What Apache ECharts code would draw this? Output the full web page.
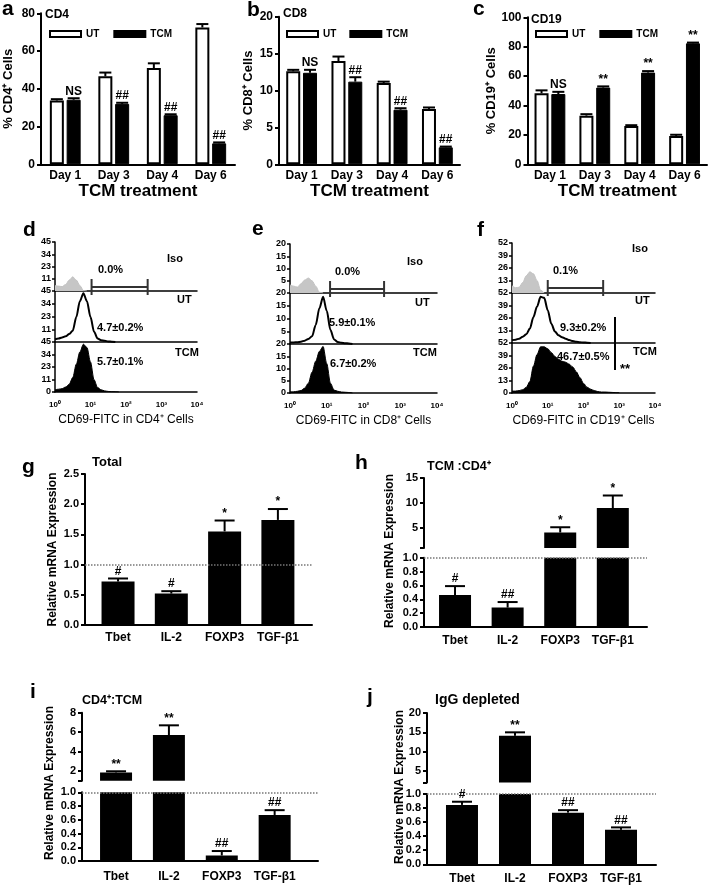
<!DOCTYPE html>
<html>
<head>
<meta charset="utf-8">
<script src="https://cdn.jsdelivr.net/npm/echarts@6/dist/echarts.min.js"></script>
<style>
  html, body { margin: 0; padding: 0; background: #fff; }
  #main { width: 708px; height: 887px; }
</style>
</head>
<body>
<div id="main"></div>
<script>
var FONT = '"Liberation Sans", Arial, sans-serif';

// ---- a-c: % positive cells per day ----
var days = ['Day 1', 'Day 3', 'Day 4', 'Day 6'];
var cd4UT = [33.8, 46.6, 51, 72.5];
var cd4UTErr = [0.7, 2, 2.5, 1.8];
var cd4TCM = [34.2, 32, 26, 11.1];
var cd4TCMErr = [0.8, 0.6, 0.5, 0.5];
var cd4Marks = ['NS', '##', '##', '##'];

var cd8UT = [12.6, 14.0, 11.0, 7.5];
var cd8UTErr = [0.2, 0.6, 0.2, 0.2];
var cd8TCM = [12.4, 11.2, 7.4, 2.3];
var cd8TCMErr = [0.4, 0.6, 0.2, 0.1];
var cd8Marks = ['NS', '##', '##', '##'];

var cd19UT = [48.3, 33.1, 26.1, 19.3];
var cd19UTErr = [2, 1, 0.5, 0.8];
var cd19TCM = [47.8, 52.2, 62.4, 82.3];
var cd19TCMErr = [1.5, 0.8, 1, 0.5];
var cd19Marks = ['NS', '**', '**', '**'];

// ---- d-f: CD69 histograms (bins in log10 decades) ----
var flowLog = [0, 0.1, 0.2, 0.3, 0.4, 0.5, 0.6, 0.7, 0.8, 0.9, 1.0, 1.1, 1.2, 1.3, 1.4, 1.5,
  1.6, 1.7, 1.8, 1.9, 2.0, 2.1, 2.2, 2.3, 2.4, 2.5, 2.6, 2.7, 2.8, 2.9, 3.0];
var flowTicks = ['10⁰', '10¹', '10²', '10³', '10⁴'];

var isoD = [5, 4.5, 4, 6, 10, 13, 10, 5, 0.5, 0];
var utD = [2.5, 3, 4, 5, 7, 10, 22, 36, 43, 36, 22, 9, 3, 1.5, 1, 0.5, 0.3, 0];
var tcmD = [2, 2.5, 3, 4.5, 7, 13, 25, 36, 43, 40, 27, 11, 4, 2, 1, 0.5, 0.3, 0.2, 0];
var gateD = [1.03, 2.61];

var isoE = [3.3, 2.8, 2.4, 3.8, 5.3, 6.1, 5, 2.8, 0.3, 0];
var utE = [0.6, 0.6, 0.7, 0.9, 1.3, 2, 3, 7.5, 14, 18.5, 13, 5.5, 1.8, 0.8, 0.5, 0.3, 0.2, 0];
var tcmE = [0.5, 0.5, 0.7, 1, 2, 4, 8.5, 13, 17, 19, 12, 4, 1.2, 0.7, 0.4, 0.3, 0.2, 0];
var gateE = [1.09, 2.56];

var isoF = [7.5, 5.5, 6, 11, 18, 22, 20, 13, 3, 0];
var utF = [3, 3.5, 4.5, 6.5, 9, 15, 27, 38, 48, 47, 34, 20, 12, 8, 6, 4.5, 3, 2, 1.2, 0.8, 0.5, 0.3, 0];
var tcmF = [2, 2, 2.5, 3.5, 6, 12, 28, 40, 48, 48, 46, 42, 38, 35, 33, 32, 30, 27, 22, 16, 10,
  6, 4, 2.5, 1.5, 1, 1, 0.8, 0.6, 0.4, 0.3];
var gateF = [1.0, 2.55];

// ---- g-j: relative mRNA expression ----
var genes = ['Tbet', 'IL-2', 'FOXP3', 'TGF-β1'];
var totalVal = [0.72, 0.52, 1.55, 1.74];
var totalErr = [0.05, 0.04, 0.18, 0.18];
var totalMarks = ['#', '#', '*', '*'];

var tcmCd4Val = [0.46, 0.28, 4.1, 9.0];
var tcmCd4Err = [0.13, 0.08, 1.05, 2.5];
var tcmCd4Marks = ['#', '##', '*', '*'];

var cd4TcmVal = [1.85, 5.7, 0.08, 0.67];
var cd4TcmErr = [0.12, 1.0, 0.065, 0.07];
var cd4TcmMarks = ['**', '**', '##', '##'];

var iggVal = [0.845, 14.1, 0.735, 0.49];
var iggErr = [0.045, 0.9, 0.035, 0.035];
var iggMarks = ['#', '**', '##', '##'];

var chart = echarts.init(document.getElementById('main'));

var grids = [], xAxes = [], yAxes = [], series = [], texts = [], legends = [];

function font(size, weight) {
  return {fontFamily: FONT, fontSize: size, fontWeight: weight || 'bold', color: '#000'};
}

function withMargin(obj, margin) {
  obj.margin = margin;
  return obj;
}

function txt(text, x, baseline, size, weight, extra) {
  var el = {
    type: 'text', x: x, y: baseline - 0.35 * size, silent: true,
    style: {text: text, fontFamily: FONT, fontSize: size, fontWeight: weight || 'bold',
      fill: '#000', align: 'left', verticalAlign: 'middle'}
  };
  if (extra) {
    for (var key in extra) el[key] = extra[key];
  }
  texts.push(el);
}

function errRender(offset, cap, marks, markSize) {
  return function (params, api) {
    var i = api.value(0);
    var v = api.value(1);
    var e = api.value(2);
    var p0 = api.coord([i, v]);
    var p1 = api.coord([i, v + e]);
    var x = p0[0] + offset;
    var els = [
      {type: 'line', shape: {x1: x, y1: p0[1], x2: x, y2: p1[1]}, style: {stroke: '#000', lineWidth: 2}},
      {type: 'line', shape: {x1: x - cap / 2, y1: p1[1], x2: x + cap / 2, y2: p1[1]}, style: {stroke: '#000', lineWidth: 2}}
    ];
    var m = marks[Math.round(i)];
    if (m) {
      els.push({type: 'text', style: {text: m, x: x, y: p1[1] - 1, align: 'center', verticalAlign: 'bottom',
        fontFamily: FONT, fontSize: markSize, fontWeight: 'bold', fill: '#000'}});
    }
    return {type: 'group', children: els};
  };
}

function triples(vals, errs, keep) {
  var out = [];
  for (var i = 0; i < vals.length; i++) {
    if (!keep || keep(vals[i])) out.push([i, vals[i], errs[i]]);
  }
  return out;
}

// ---------- a, b, c ----------
function dayPanel(g, ut, utErr, tcm, tcmErr, marks) {
  var k = grids.length;
  grids.push({left: g.left, top: g.top, width: g.width, height: g.height});
  xAxes.push({
    gridIndex: k, type: 'category', data: days,
    axisLine: {lineStyle: {color: '#000', width: 2}},
    axisTick: {alignWithLabel: true, length: 4, lineStyle: {color: '#000', width: 2}},
    axisLabel: withMargin(font(12), 5),
    name: 'TCM treatment', nameLocation: 'middle', nameGap: 19, nameTextStyle: font(17)
  });
  yAxes.push({
    gridIndex: k, type: 'value', min: 0, max: g.max, interval: g.step,
    axisLine: {show: true, lineStyle: {color: '#000', width: 2}},
    axisTick: {show: true, length: 4, lineStyle: {color: '#000', width: 2}},
    axisLabel: withMargin(font(12), 6),
    splitLine: {show: false},
    name: g.yName, nameLocation: 'middle', nameGap: g.nameGap, nameTextStyle: font(13)
  });
  series.push({
    name: 'UT', type: 'bar', xAxisIndex: k, yAxisIndex: k, data: ut, barWidth: 14, barGap: '20%',
    itemStyle: {color: '#fff', borderColor: '#000', borderWidth: 2}
  });
  series.push({
    name: 'TCM', type: 'bar', xAxisIndex: k, yAxisIndex: k, data: tcm, barWidth: 14, barGap: '20%',
    itemStyle: {color: '#000', borderColor: '#000', borderWidth: 1}
  });
  series.push({
    type: 'custom', xAxisIndex: k, yAxisIndex: k, data: triples(ut, utErr), clip: false, z: 5,
    encode: {x: 0, y: 1}, renderItem: errRender(-8.4, 12, [], 12)
  });
  series.push({
    type: 'custom', xAxisIndex: k, yAxisIndex: k, data: triples(tcm, tcmErr), clip: false, z: 5,
    encode: {x: 0, y: 1}, renderItem: errRender(8.4, 12, marks, 12)
  });
  legends.push({
    data: ['UT', 'TCM'], left: g.legendLeft, top: 29, icon: 'rect', itemWidth: 31, itemHeight: 6,
    itemGap: g.legendGap, padding: 0, selectedMode: false, textStyle: font(10)
  });
}

dayPanel({left: 41, top: 13.3, width: 194, height: 151, max: 80, step: 20,
  yName: '% CD4⁺ Cells', nameGap: 26, legendLeft: 49, legendGap: 14},
  cd4UT, cd4UTErr, cd4TCM, cd4TCMErr, cd4Marks);
dayPanel({left: 279, top: 16.7, width: 181, height: 147.6, max: 20, step: 5,
  yName: '% CD8⁺ Cells', nameGap: 24, legendLeft: 286, legendGap: 13},
  cd8UT, cd8UTErr, cd8TCM, cd8TCMErr, cd8Marks);
dayPanel({left: 527.5, top: 17.3, width: 179.5, height: 147, max: 100, step: 20,
  yName: '% CD19⁺ Cells', nameGap: 28, legendLeft: 535, legendGap: 14},
  cd19UT, cd19UTErr, cd19TCM, cd19TCMErr, cd19Marks);

// ---------- d, e, f ----------
function pairs(h) {
  var out = [];
  for (var i = 0; i < h.length; i++) out.push([flowLog[i], h[i]]);
  return out;
}

function flowPanel(p, iso, ut, tcm, gate) {
  var hists = [iso, ut, tcm];
  for (var s = 0; s < 3; s++) {
    var k = grids.length;
    var bottom = s === 2;
    grids.push({left: p.left, top: p.tops[s], width: p.width, height: p.heights[s]});
    xAxes.push({
      gridIndex: k, type: 'value', min: 0, max: 4, interval: 1,
      axisLine: {onZero: false, lineStyle: {color: '#000', width: 1.5}},
      axisTick: {show: false},
      axisLabel: bottom ? {show: true, margin: 9, fontFamily: FONT, fontSize: 8, fontWeight: 'bold', color: '#000',
        formatter: function (v) { return flowTicks[Math.round(v)]; }} : {show: false},
      splitLine: {show: false},
      name: bottom ? p.xName : '', nameLocation: 'middle', nameGap: 22, nameTextStyle: font(12, 'normal')
    });
    yAxes.push({
      gridIndex: k, type: 'value', min: 0, max: p.max, interval: p.max / 4,
      axisLine: {show: true, onZero: false, lineStyle: {color: '#000', width: 1.5}},
      axisTick: {show: true, length: 3, lineStyle: {color: '#000', width: 1.5}},
      axisLabel: {margin: 4, fontFamily: FONT, fontSize: 9, fontWeight: 'bold', color: '#000',
        showMinLabel: bottom, formatter: function (v) { return Math.round(v); }},
      splitLine: {show: false}
    });
    var line = {
      type: 'line', xAxisIndex: k, yAxisIndex: k, data: pairs(hists[s]), showSymbol: false,
      smooth: 0.3, smoothMonotone: 'x', silent: true, z: 3
    };
    if (s === 0) {
      line.lineStyle = {color: '#c2c2c2', width: 1};
      line.areaStyle = {color: '#c6c6c6', opacity: 1};
    } else if (s === 1) {
      line.lineStyle = {color: '#000', width: 2};
    } else {
      line.lineStyle = {color: '#000', width: 1};
      line.areaStyle = {color: '#000', opacity: 1};
    }
    series.push(line);
    if (s === 0) {
      series.push({
        type: 'custom', xAxisIndex: k, yAxisIndex: k, data: [[gate[0], gate[1]]], clip: false, z: 6,
        encode: {x: [0, 1]},
        renderItem: function (params, api) {
          var a = api.coord([api.value(0), 0]);
          var b = api.coord([api.value(1), 0]);
          var y = a[1] - p.gateLift;
          var st = {stroke: '#333', lineWidth: 2};
          return {type: 'group', children: [
            {type: 'line', shape: {x1: a[0], y1: y, x2: b[0], y2: y}, style: st},
            {type: 'line', shape: {x1: a[0], y1: y - 8, x2: a[0], y2: y + 8}, style: st},
            {type: 'line', shape: {x1: b[0], y1: y - 8, x2: b[0], y2: y + 8}, style: st}
          ]};
        }
      });
    }
  }
}

flowPanel({left: 55, width: 142, tops: [242, 291, 342], heights: [49, 51, 50], max: 45, gateLift: 4,
  xName: 'CD69-FITC in CD4⁺ Cells'}, isoD, utD, tcmD, gateD);
flowPanel({left: 290, width: 147, tops: [244, 293, 344], heights: [49, 51, 49], max: 20, gateLift: 4,
  xName: 'CD69-FITC in CD8⁺ Cells'}, isoE, utE, tcmE, gateE);
flowPanel({left: 512, width: 143, tops: [243, 293, 343], heights: [50, 50, 50], max: 52, gateLift: 5,
  xName: 'CD69-FITC in CD19⁺ Cells'}, isoF, utF, tcmF, gateF);

// ---------- g, h, i, j ----------
var dotted = {
  silent: true, symbol: ['none', 'none'], label: {show: false},
  lineStyle: {type: 'dotted', color: '#777', width: 1.5}, data: [{yAxis: 1}]
};

function geneX(k, p, visible) {
  return {
    gridIndex: k, type: 'value', min: p.xMin, max: p.xMax, show: visible,
    axisLine: {onZero: false, lineStyle: {color: '#000', width: 2}},
    axisTick: {show: false},
    axisLabel: {customValues: [0, 1, 2, 3], margin: p.labelMargin, fontFamily: FONT, fontSize: 12,
      fontWeight: 'bold', color: '#000', formatter: function (v) { return genes[Math.round(v)]; }},
    splitLine: {show: false}
  };
}

function geneY(k, cfg) {
  var ax = {
    gridIndex: k, type: 'value', min: cfg.min, max: cfg.max,
    axisLine: {show: true, onZero: false, lineStyle: {color: '#000', width: 2}},
    axisTick: {show: true, length: 4, lineStyle: {color: '#000', width: 2}},
    axisLabel: {margin: 6, fontFamily: FONT, fontSize: 11, fontWeight: 'bold', color: '#000',
      formatter: cfg.format},
    splitLine: {show: false}
  };
  if (cfg.step) ax.interval = cfg.step;
  if (cfg.labels) {
    ax.axisLabel.customValues = cfg.labels;
    ax.axisTick.customValues = cfg.ticks;
  }
  if (cfg.name) {
    ax.name = cfg.name;
    ax.nameLocation = 'middle';
    ax.nameGap = cfg.nameGap;
    ax.nameTextStyle = font(12);
  }
  return ax;
}

function oneDec(v) { return v.toFixed(1); }
function intLabel(v) { return String(Math.round(v)); }

function barPoints(vals) {
  return vals.map(function (v, i) { return [i, v]; });
}

// g: single axis
(function () {
  var p = {left: 85, top: 474, width: 227, height: 151, xMin: -0.62, xMax: 3.64, labelMargin: 7};
  var k = grids.length;
  grids.push({left: p.left, top: p.top, width: p.width, height: p.height});
  xAxes.push(geneX(k, p, true));
  yAxes.push(geneY(k, {min: 0, max: 2.5, step: 0.5, format: oneDec,
    name: 'Relative mRNA Expression', nameGap: 26}));
  series.push({type: 'bar', xAxisIndex: k, yAxisIndex: k, data: barPoints(totalVal), barWidth: 33,
    itemStyle: {color: '#000'}, markLine: dotted});
  series.push({type: 'custom', xAxisIndex: k, yAxisIndex: k, data: triples(totalVal, totalErr),
    clip: false, z: 5, encode: {x: 0, y: 1}, renderItem: errRender(0, 20, totalMarks, 12)});
})();

function brokenPanel(p, vals, errs, marks) {
  var ku = grids.length;
  var kl = ku + 1;
  grids.push({left: p.left, top: p.upTop, width: p.width, height: p.upHeight});
  grids.push({left: p.left, top: p.lowTop, width: p.width, height: p.lowHeight});
  xAxes.push(geneX(ku, p, false));
  xAxes.push(geneX(kl, p, true));
  yAxes.push(geneY(ku, {min: p.up.min, max: p.up.max, labels: p.up.labels, ticks: p.up.ticks, format: intLabel}));
  yAxes.push(geneY(kl, {min: 0, max: 1, step: 0.2, format: oneDec}));
  var upper = vals.map(function (v, i) { return v > 1 ? [i, v] : [i, '-']; });
  var lower = vals.map(function (v, i) { return [i, Math.min(v, 1)]; });
  series.push({type: 'bar', xAxisIndex: ku, yAxisIndex: ku, data: upper, barWidth: p.barWidth,
    itemStyle: {color: '#000'}});
  series.push({type: 'bar', xAxisIndex: kl, yAxisIndex: kl, data: lower, barWidth: p.barWidth,
    itemStyle: {color: '#000'}, markLine: dotted});
  series.push({type: 'custom', xAxisIndex: ku, yAxisIndex: ku,
    data: triples(vals, errs, function (v) { return v > 1; }),
    clip: false, z: 5, encode: {x: 0, y: 1}, renderItem: errRender(0, 20, marks, 12)});
  series.push({type: 'custom', xAxisIndex: kl, yAxisIndex: kl,
    data: triples(vals, errs, function (v) { return v <= 1; }),
    clip: false, z: 5, encode: {x: 0, y: 1}, renderItem: errRender(0, 20, marks, 12)});
  txt('Relative mRNA Expression', p.nameX, p.nameY + 0.35 * 12, 12, 'bold',
    {rotation: Math.PI / 2, style: {text: 'Relative mRNA Expression', fontFamily: FONT, fontSize: 12,
      fontWeight: 'bold', fill: '#000', align: 'center', verticalAlign: 'middle'}});
}

brokenPanel({left: 424, width: 223, xMin: -0.59, xMax: 3.65, labelMargin: 8, barWidth: 32,
  upTop: 478, upHeight: 70, lowTop: 557.7, lowHeight: 69.3,
  up: {min: 1, max: 15, labels: [5, 10, 15], ticks: [1, 5, 10, 15]}, nameX: 390, nameY: 551},
  tcmCd4Val, tcmCd4Err, tcmCd4Marks);
brokenPanel({left: 82, width: 236, xMin: -0.644, xMax: 3.82, labelMargin: 10, barWidth: 32,
  upTop: 712.7, upHeight: 68, lowTop: 792.3, lowHeight: 68.7,
  up: {min: 1, max: 8, labels: [2, 4, 6, 8], ticks: [1, 2, 4, 6, 8]}, nameX: 50, nameY: 783},
  cd4TcmVal, cd4TcmErr, cd4TcmMarks);
brokenPanel({left: 427, width: 229, xMin: -0.66, xMax: 3.66, labelMargin: 8, barWidth: 32,
  upTop: 713, upHeight: 69.6, lowTop: 794, lowHeight: 70.3,
  up: {min: 2, max: 20, labels: [5, 10, 15, 20], ticks: [2, 5, 10, 15, 20]}, nameX: 400, nameY: 787},
  iggVal, iggErr, iggMarks);

// ---------- free text ----------
// panel letters
txt('a', 2, 17, 21); txt('b', 247, 17.3, 21); txt('c', 473, 17, 21);
txt('d', 23, 238, 21); txt('e', 252, 237, 21); txt('f', 477, 238, 21);
txt('g', 22, 475, 21); txt('h', 355, 471, 21); txt('i', 30, 700, 21); txt('j', 367, 705, 21);
// panel titles
txt('CD4', 45, 19, 12); txt('CD8', 283, 18, 12); txt('CD19', 531, 24, 12);
txt('Total', 92, 467, 13); txt('TCM :CD4⁺', 427, 471, 12.5);
txt('CD4⁺:TCM', 82, 705, 12.5); txt('IgG depleted', 435, 705, 14);
// flow labels
txt('Iso', 167, 263, 11); txt('0.0%', 98, 274, 11); txt('UT', 177, 304, 11);
txt('4.7±0.2%', 97, 332, 11); txt('TCM', 175, 357, 11); txt('5.7±0.1%', 97, 366, 11);
txt('Iso', 407, 266, 11); txt('0.0%', 335, 276, 11); txt('UT', 415, 307, 11);
txt('5.9±0.1%', 329, 327, 11); txt('TCM', 413, 357, 11); txt('6.7±0.2%', 330, 368, 11);
txt('Iso', 632, 253, 11); txt('0.1%', 553, 275, 11); txt('UT', 635, 305, 11);
txt('9.3±0.2%', 560, 332, 11); txt('TCM', 633, 356, 11); txt('46.7±0.5%', 557, 361, 11);
txt('**', 620, 374, 13);
texts.push({type: 'line', silent: true, shape: {x1: 615, y1: 317, x2: 615, y2: 370},
  style: {stroke: '#000', lineWidth: 2}});

chart.setOption({
  animation: false,
  backgroundColor: '#fff',
  textStyle: {fontFamily: FONT},
  grid: grids,
  xAxis: xAxes,
  yAxis: yAxes,
  legend: legends,
  series: series,
  graphic: {elements: texts}
});
</script>
</body>
</html>
